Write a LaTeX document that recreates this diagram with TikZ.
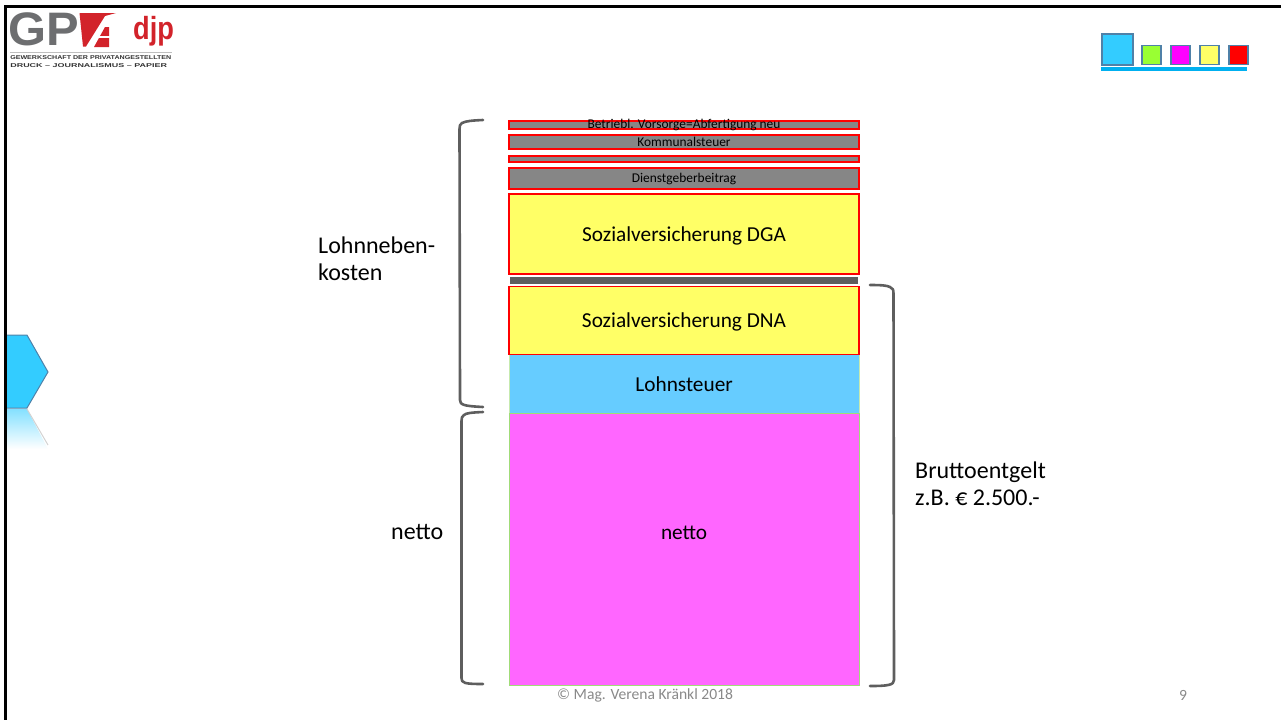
\documentclass[tikz,border=0pt]{standalone}
\usepackage{fontspec}
\setmainfont{Carlito}
\newfontfamily\logofont{Liberation Sans}
\usepackage{xcolor}
\definecolor{skyfill}{HTML}{33CCFF}
\definecolor{taxblue}{HTML}{66CCFF}
\definecolor{nettopink}{HTML}{FF66FF}
\definecolor{insyellow}{HTML}{FFFF66}
\definecolor{bargray}{HTML}{868686}
\definecolor{slategray}{HTML}{5E5E5E}
\definecolor{edgegreen}{HTML}{A0DC78}
\definecolor{tabblue}{HTML}{4F81A8}
\definecolor{logored}{HTML}{D2232A}
\definecolor{logogray}{HTML}{6D6E70}
\definecolor{tabgreen}{HTML}{99FF33}
\definecolor{tabmagenta}{HTML}{FF00FF}
\definecolor{tabred}{HTML}{FF0000}
\definecolor{barcyan}{HTML}{00B0F0}
\definecolor{footgray}{HTML}{898989}
\tikzset{
    x=1pt, y=-1pt,
    band/.style={draw, line width=1.6pt, inner sep=0pt, minimum width=350pt, anchor=north west, text height=15pt, text depth=0pt, font=\fontsize{21.3}{23}\selectfont},
    redband/.style={band, draw=tabred},
    barband/.style={redband, fill=bargray, text height=9pt, font=\fontsize{13.4}{15}\selectfont},
    greenband/.style={band, line width=1.2pt, draw=edgegreen},
    bracket/.style={draw=slategray, line width=2.6pt, line cap=round, line join=round},
    sidetext/.style={anchor=west, align=left, inner sep=0pt, font=\fontsize{24}{26.5}\selectfont},
    tabbox/.style={draw=tabblue, line width=1.5pt, inner sep=0pt, minimum size=19pt, anchor=north west},
    foottext/.style={inner sep=0pt, text=footgray, font=\fontsize{15.6}{17}\selectfont},
    logoline/.style={anchor=west, inner sep=0pt, text=black!80, font=\logofont\bfseries\fontsize{5.6}{6}\selectfont},
}
\begin{document}
\begin{tikzpicture}
    \useasboundingbox (0, 0) rectangle (1281, 720);
    % frame
    \draw[line width=2.4pt] (1281, 6.5) -- (5.5, 6.5) -- (5.5, 720);

    % logo
    \node[anchor=west, inner sep=0pt, text=logogray, xscale=1.04, font=\logofont\bfseries\fontsize{47}{47}\selectfont] (logoGP) at (8, 29) {GP};
    \fill[logored] (79.5, 13) -- (116, 13) -- (105, 16) -- (86, 46.5) -- (83, 46.5) -- cycle;
    \fill[logored] (94, 47) -- (105, 27) -- (109, 27) -- (109, 47) -- cycle;
    \fill[white] (98, 36) rectangle (110, 38);
    \node[anchor=west, inner sep=0pt, text=logored, xscale=0.85, font=\logofont\bfseries\fontsize{32}{32}\selectfont] (logoDjp) at (133, 31) {djp};
    \draw[gray!50, line width=0.8pt] (10, 52) -- (172, 52);
    \node[logoline, xscale=1.27] (logoTop) at (10, 58) {GEWERKSCHAFT DER PRIVATANGESTELLTEN};
    \node[logoline, xscale=1.6] (logoBottom) at (10, 65.5) {DRUCK – JOURNALISMUS – PAPIER};

    % tabs
    \node[tabbox, fill=skyfill, minimum size=31pt] (tabBlue) at (1101, 33) {};
    \node[tabbox, fill=tabgreen] (tabGreen) at (1141, 44.5) {};
    \node[tabbox, fill=tabmagenta] (tabMagenta) at (1170, 44.5) {};
    \node[tabbox, fill=insyellow] (tabYellow) at (1199, 44.5) {};
    \node[tabbox, fill=tabred] (tabRed) at (1228, 44.5) {};
    \fill[barcyan] (1101, 67) rectangle (1247, 71);

    % arrow tab on the left
    \shade[top color=skyfill!60, bottom color=white, draw=none] (7, 409) -- (27, 409) -- (48, 449) -- (7, 449) -- cycle;
    \draw[gray!35, line width=1pt] (27, 409) -- (48, 445);
    \filldraw[fill=skyfill, draw=tabblue, line width=1pt] (7, 335) -- (27, 335) -- (48, 372) -- (27, 408) -- (7, 408);

    % bands
    \node[barband, text height=0pt, minimum height=8pt, label={[font=\fontsize{13.4}{15}\selectfont, inner sep=0pt]center:Betriebl. Vorsorge=Abfertigung neu}] (vorsorge) at (508.2, 120) {};
    \node[barband, minimum height=14pt] (kommunal) at (508.2, 134) {Kommunalsteuer};
    \node[barband, text height=0pt, minimum height=6pt] (thinband) at (508.2, 155) {};
    \node[barband, minimum height=21pt] (dienstgeber) at (508.2, 167) {Dienstgeberbeitrag};
    \node[redband, fill=insyellow, minimum height=80pt] (dga) at (508.2, 193) {Sozialversicherung DGA};
    \node[band, draw=none, text height=0pt, fill=slategray, minimum width=348pt, minimum height=7pt] (darkband) at (509, 276) {};
    \node[greenband, fill=taxblue, minimum height=60pt, draw=edgegreen!60] (lohnsteuer) at (508.5, 353.5) {Lohnsteuer};
    \node[greenband, text height=0pt, fill=nettopink, minimum height=271.5pt, label={[yshift=17pt, font=\fontsize{21.3}{23}\selectfont, inner sep=0pt]center:netto}] (netto) at (508.5, 413.2) {};
    \node[redband, fill=insyellow, minimum height=68pt] (dna) at (508.2, 285.5) {Sozialversicherung DNA};

    % brackets
    \draw[bracket] (483, 120) .. controls (472, 120.5) and (466, 121) .. (462, 123) .. controls (460, 124) and (459.5, 126) .. (459.5, 129) -- (460, 400) .. controls (460, 405) and (464, 406) .. (483, 407);
    \draw[bracket] (483, 412) .. controls (472, 412.5) and (466, 413) .. (464, 415) .. controls (462, 416) and (461.5, 418) .. (461.5, 421) -- (461.5, 678) .. controls (461.5, 683) and (464, 684) .. (483, 684);
    \draw[bracket] (870, 285) .. controls (882, 285) and (887, 285.5) .. (890, 287) .. controls (893, 288) and (893.5, 290) .. (893.5, 294) -- (894, 680) .. controls (894, 685) and (888, 686) .. (870, 686);

    % labels
    \node[sidetext] (lohnnebenLabel) at (318, 259) {Lohnneben-\\kosten};
    \node[sidetext] (nettoLabel) at (391, 532) {netto};
    \node[sidetext] (bruttoLabel) at (915, 484) {Bruttoentgelt\\z.B. € 2.500.-};
    \node[foottext, anchor=west] (copyright) at (557, 695) {© Mag. Verena Kränkl 2018};
    \node[foottext] (pageNum) at (1183, 695) {9};
\end{tikzpicture}
\end{document}
